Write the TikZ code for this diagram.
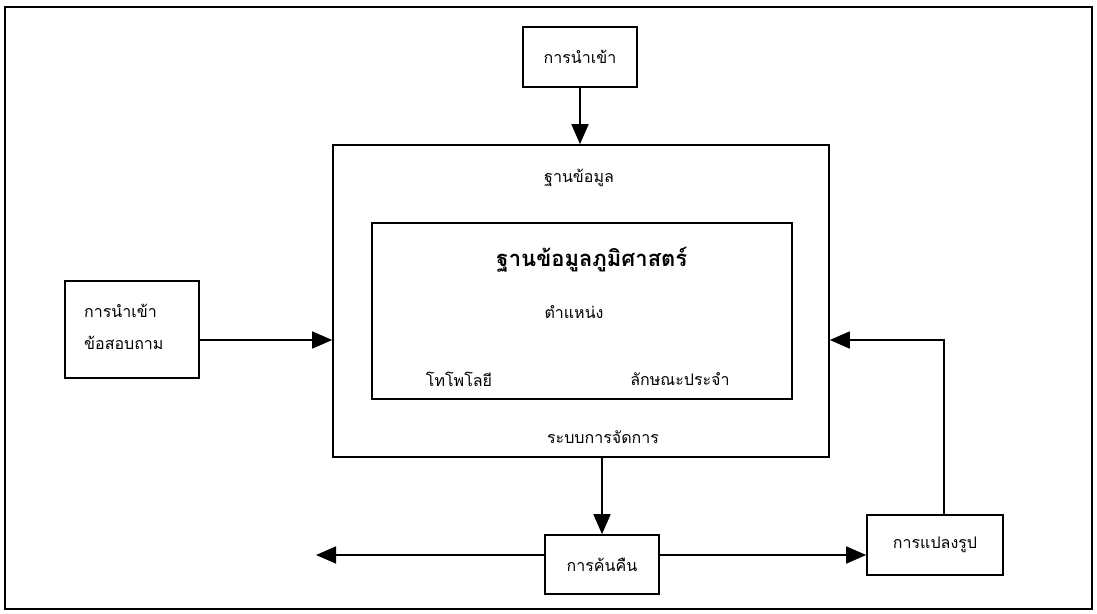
\documentclass[tikz,border=0pt]{standalone}
\usepackage{fontspec}
\newfontfamily\thai[Script=Thai]{Loma}
\usetikzlibrary{arrows.meta,calc}
\begin{document}
\begin{tikzpicture}[x=1pt,y=-1pt,
  box/.style={draw,line width=1.6pt,rectangle,inner sep=0pt},
  lbl/.style={font=\thai\fontsize{16}{18}\selectfont,inner sep=0pt},
  arr/.style={line width=1.6pt,-{Triangle[length=20pt,width=17pt]}}]
\useasboundingbox (0,0) rectangle (1097,613);
% page frame
\draw[line width=1.6pt] (5,7) rectangle (1092,609);

% boxes
\node[box,minimum width=114pt,minimum height=60pt] (imp) at (580,57) {};
\node[box,minimum width=496pt,minimum height=312pt] (db) at (581,301) {};
\node[box,minimum width=420pt,minimum height=176pt] (gdb) at (582,311) {};
\node[box,minimum width=134pt,minimum height=97pt] (qin) at (132,329.5) {};
\node[box,minimum width=114pt,minimum height=59pt] (rt) at (602,564.5) {};
\node[box,minimum width=136pt,minimum height=60pt] (tf) at (935,545) {};

% texts
\node[lbl] (timp) at (imp) {การนำเข้า};
\node[lbl] (tdb) at (579,178) {ฐานข้อมูล};
\node[lbl,font=\thai\bfseries\fontsize{22}{26}\selectfont] (tgdb) at (592,260) {ฐานข้อมูลภูมิศาสตร์};
\node[lbl] (tpos) at (574,312) {ตำแหน่ง};
\node[lbl] (ttop) at (459,379) {โทโพโลยี};
\node[lbl] (tatt) at (680,379) {ลักษณะประจำ};
\node[lbl] (tman) at (603,437) {ระบบการจัดการ};
\node[lbl,anchor=west] (tq1) at (84,311) {การนำเข้า};
\node[lbl,anchor=west] (tq2) at (84,343) {ข้อสอบถาม};
\node[lbl] (trt) at (rt) {การค้นคืน};
\node[lbl] (ttf) at (tf) {การแปลงรูป};

% connectors
\coordinate (qout) at ($(qin.east)+(0,10.5)$);
\coordinate (outl) at (316,555);
\coordinate (back) at (944,340);
\draw[arr] (imp.south) -- (imp.south |- db.north);
\draw[arr] (qout) -- (qout -| db.west);
\draw[arr] (rt.north |- db.south) -- (rt.north);
\draw[arr] (rt.west |- outl) -- (outl);
\draw[arr] (rt.east |- outl) -- (tf.west |- outl);
\draw[arr] (tf.north -| back) -- (back) -- (back -| db.east);
\end{tikzpicture}
\end{document}
